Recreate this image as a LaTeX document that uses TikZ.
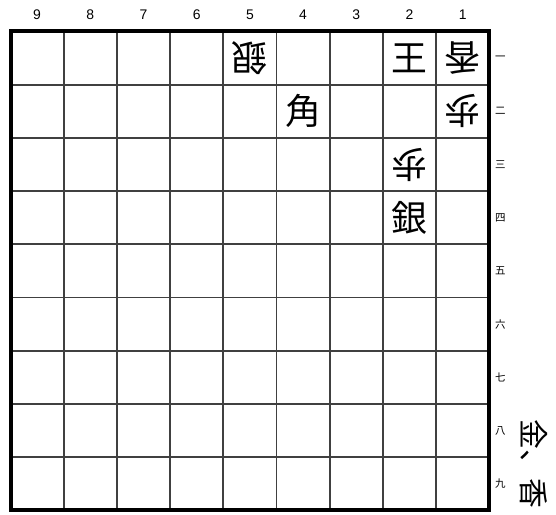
\documentclass[tikz,border=0pt]{standalone}
\usepackage{fontspec}
\setmainfont{Liberation Sans}
\newfontfamily\jpfont{Noto Sans CJK JP}

\begin{document}
\begin{tikzpicture}[
  x=1bp,y=-1bp,
  grid line/.style={line width=1.8bp,black!75},
  piece/.style={font=\jpfont\fontsize{36}{36}\selectfont,inner sep=0pt},
  gote/.style={piece,rotate=180},
  colnum/.style={font=\fontsize{14}{14}\selectfont,inner sep=0pt},
  rownum/.style={font=\jpfont\fontsize{10.5}{10.5}\selectfont,inner sep=0pt,anchor=west},
  inhand/.style={font=\jpfont\fontsize{30}{30}\selectfont,inner sep=0pt,rotate=-90}
]
  \useasboundingbox (0,0) rectangle (556,515);

  \foreach \i in {1,...,8} {
    \draw[grid line] (10.5+\i*53.2,31.5) -- (10.5+\i*53.2,510.3);
    \draw[grid line] (10.5,31.5+\i*53.2) -- (489.3,31.5+\i*53.2);
  }
  \draw[line width=4bp] (10.5,31.5) rectangle (489.3,510.3);

  \foreach \c [count=\k from 0] in {9,...,1}
    \node[colnum] (col\c) at (37.1+\k*53.2,15) {\c};
  \foreach \r/\t in {1/一,2/二,3/三,4/四,5/五,6/六,7/七,8/八,9/九}
    \node[rownum] (row\r) at (495,58.1+\r*53.2-53.2) {\t};

  \foreach \c/\r/\p/\n in {5/1/銀/gin51,1/1/香/kyo11,1/2/歩/fu12,2/3/歩/fu23}
    \node[gote] (\n) at (10.5+9.5*53.2-\c*53.2,31.5+\r*53.2-26.6) {\p};
  \foreach \c/\r/\p/\n in {2/1/王/ou21,4/2/角/kaku42,2/4/銀/gin24}
    \node[piece] (\n) at (10.5+9.5*53.2-\c*53.2,31.5+\r*53.2-26.6) {\p};

  \node[inhand] (hand) at (534,464) {金、香};
\end{tikzpicture}
\end{document}
